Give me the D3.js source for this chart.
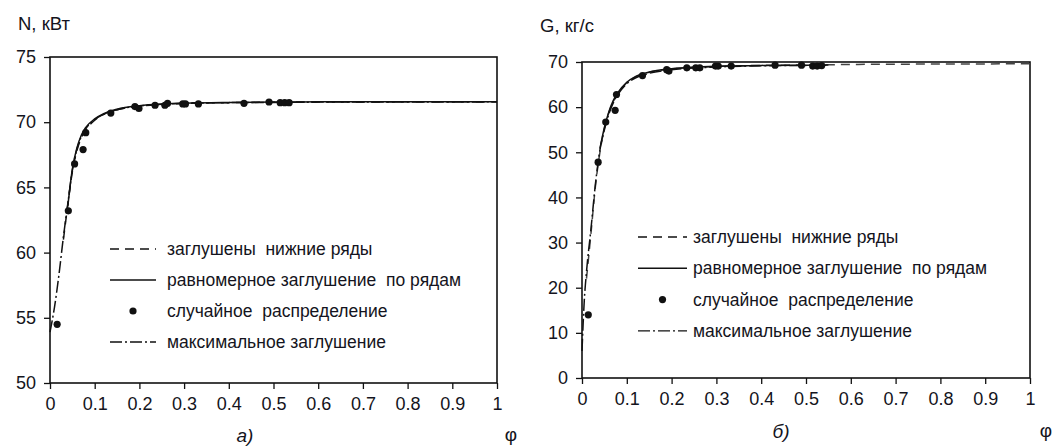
<!DOCTYPE html>
<html>
<head>
<meta charset="utf-8">
<script src="https://cdn.jsdelivr.net/npm/d3@7"></script>
<style>
  body { margin: 0; background: #fff; }
  svg { display: block; }
  text { font-family: "Liberation Sans", Arial, sans-serif; fill: #141420; }
  .tick line { stroke: #111; stroke-width: 1.3px; }
  .tick text { font-size: 18px; fill: #141420; }
  .frame { fill: none; stroke: #111; stroke-width: 1.6px; }
  .curve { fill: none; stroke-width: 1.5px; }
  .legend_text { font-size: 17.5px; }
</style>
</head>
<body>
<svg id="chart" width="1054" height="448"></svg>
<script>
// small stand-in for d3-selection-multi
d3.selection.prototype.attrs = function(o) {
  Object.entries(o).forEach(([k, v]) => this.attr(k, v))
  return this
}

// x ticks shared by both panels
let xTicks = [0, 0.1, 0.2, 0.3, 0.4, 0.5, 0.6, 0.7, 0.8, 0.9, 1]

let legendLabels = ["заглушены  нижние ряды", "равномерное заглушение  по рядам",
                    "случайное  распределение", "максимальное заглушение"]

// panel a) N, кВт
let leftTicks = [50, 55, 60, 65, 70, 75]
let leftPhi = [0, 0.01, 0.02, 0.03, 0.04, 0.05, 0.06, 0.07, 0.08, 0.1, 0.12, 0.15, 0.2, 0.25, 0.3, 0.4, 0.5, 0.6, 0.8, 1]
let leftMax = [53.9, 55.8, 58.3, 61.2, 63.8, 66.3, 67.9, 68.9, 69.5, 70.2, 70.6, 70.95, 71.25, 71.38, 71.45, 71.5, 71.52, 71.54, 71.55, 71.56]
let leftUniform = [null, null, null, null, 63.6, 66.4, 68.0, 69.0, 69.6, 70.25, 70.65, 71.0, 71.27, 71.4, 71.46, 71.52, 71.55, 71.56, 71.57, 71.57]
let leftLower = [null, null, null, 61.0, 63.7, 66.2, 67.8, 68.8, 69.4, 70.15, 70.6, 70.95, 71.22, 71.36, 71.43, 71.5, 71.53, 71.55, 71.56, 71.57]
let leftPointsPhi = [0.016, 0.041, 0.055, 0.074, 0.08, 0.136, 0.19, 0.199, 0.235, 0.257, 0.263, 0.297, 0.303, 0.332, 0.434, 0.49, 0.515, 0.525, 0.535]
let leftPointsN = [54.5, 63.2, 66.8, 67.9, 69.2, 70.7, 71.2, 71.05, 71.3, 71.3, 71.45, 71.4, 71.4, 71.4, 71.45, 71.55, 71.5, 71.5, 71.5]

// panel б) G, кг/с
let rightTicks = [0, 10, 20, 30, 40, 50, 60, 70]
let rightPhi = [0, 0.005, 0.01, 0.02, 0.03, 0.04, 0.05, 0.06, 0.07, 0.08, 0.1, 0.12, 0.15, 0.2, 0.25, 0.3, 0.4, 0.5, 0.55, 0.6, 0.8, 1]
let rightMax = [6, 17, 23.5, 33, 43, 50.5, 55, 58.5, 61, 62.8, 65.2, 66.5, 67.5, 68.3, 68.65, 68.9, 69.15, 69.25, 69.3, null, null, null]
let rightUniform = [null, null, null, null, null, 50.8, 55.5, 59, 61.5, 63.2, 65.5, 66.8, 67.8, 68.5, 68.85, 69.05, 69.25, 69.3, 69.32, null, null, null]
let rightLower = [null, null, 22, 32, 42.5, 50, 55.3, 58.8, 61.3, 63.0, 65.4, 66.7, 67.7, 68.45, 68.8, 69.0, 69.25, 69.35, 69.4, 69.45, 69.55, 69.6]
let rightPointsPhi = [0.014, 0.036, 0.053, 0.074, 0.077, 0.135, 0.189, 0.194, 0.234, 0.254, 0.263, 0.298, 0.304, 0.333, 0.431, 0.49, 0.515, 0.525, 0.535]
let rightPointsG = [14.0, 47.8, 56.7, 59.3, 62.8, 67.0, 68.3, 68.0, 68.7, 68.7, 68.7, 69.1, 69.1, 69.1, 69.3, 69.3, 69.1, 69.1, 69.2]

let dashes = {lower: "9,6", uniform: null, max: "12,3,2,3"}

let svg = d3.select("#chart")

function make_scales(p, yDomain) {
  return {
    x: d3.scaleLinear().domain([0, 1]).range([p.left, p.right]),
    y: d3.scaleLinear().domain(yDomain).range([p.bottom, p.top])
  }
}

function draw_panel(p, yDomain, yTicks, phi, curves, ptsPhi, ptsY) {
  let scales = make_scales(p, yDomain)
  let g = svg.append("g")

  let x_axis = d3.axisBottom(scales.x).tickValues(xTicks).tickFormat(d => d)
        .tickSize(6).tickPadding(8),
      y_axis = d3.axisLeft(scales.y).tickValues(yTicks).tickFormat(d => d)
        .tickSize(6).tickPadding(8)

  g.append("g").attr("transform", `translate(0, ${p.bottom})`).call(x_axis)
  g.append("g").attr("transform", `translate(${p.left}, 0)`).call(y_axis)
  g.selectAll(".domain").remove()

  g.append("rect").attrs({
    class: "frame",
    x: p.left, y: p.top,
    width: p.right - p.left, height: p.bottom - p.top
  })

  curves.forEach(c => {
    let rows = phi.map((f, i) => ({f: f, v: c.values[i]}))
    let path_generator = d3.line()
      .defined(d => d.v !== null)
      .x(d => scales.x(d.f))
      .y(d => scales.y(d.v))
      .curve(d3.curveMonotoneX)
    g.append("path")
      .datum(rows)
      .attr("class", "curve")
      .attr("stroke", c.color || "#111")
      .attr("stroke-dasharray", c.dash)
      .attr("d", path_generator)
  })

  g.selectAll("circle.pt")
    .data(ptsPhi.map((f, i) => ({f: f, v: ptsY[i]})))
    .enter().append("circle")
    .attrs({
      class: "pt",
      cx: d => scales.x(d.f),
      cy: d => scales.y(d.v),
      r: 3.6,
      fill: "#111"
    })
  return g
}

function draw_legend(l) {
  let g = svg.append("g")
  let kinds = ["lower", "uniform", "dot", "max"]
  kinds.forEach((k, i) => {
    let y = l.y0 + i * l.step
    if (k === "dot") {
      g.append("circle").attrs({cx: (l.x1 + l.x2) / 2, cy: y, r: 3.6, fill: "#111"})
    } else {
      g.append("line").attrs({
        x1: l.x1, x2: l.x2, y1: y, y2: y,
        stroke: "#111", "stroke-width": 1.4,
        "stroke-dasharray": dashes[k]
      })
    }
    g.append("text")
      .attr("class", "legend_text")
      .attr("x", l.tx)
      .attr("y", y)
      .attr("dy", "0.35em")
      .style("white-space", "pre")
      .text(legendLabels[i])
  })
}

function titles(items) {
  items.forEach(t => {
    svg.append("text")
      .attrs({x: t.x, y: t.y, "text-anchor": t.anchor || "start"})
      .style("font-size", t.size + "px")
      .style("font-style", t.italic ? "italic" : "normal")
      .text(t.text)
  })
}

let leftBox = {left: 50, right: 497, top: 57, bottom: 383},
    rightBox = {left: 582, right: 1030, top: 62, bottom: 378}

draw_panel(leftBox, [50, 75], leftTicks, leftPhi, [
  {values: leftLower, dash: dashes.lower},
  {values: leftUniform, dash: dashes.uniform},
  {values: leftMax, dash: dashes.max}
], leftPointsPhi, leftPointsN)

draw_panel(rightBox, [0, 70], rightTicks, rightPhi, [
  {values: rightLower, dash: dashes.lower, color: "#444"},
  {values: rightUniform, dash: dashes.uniform},
  {values: rightMax, dash: dashes.max}
], rightPointsPhi, rightPointsG)

draw_legend({x1: 110, x2: 156, tx: 167, y0: 249, step: 31})
draw_legend({x1: 638, x2: 687, tx: 693, y0: 237, step: 31.3})

titles([
  {text: "N, кВт", x: 18, y: 30, size: 18.5},
  {text: "G, кг/с", x: 540, y: 32, size: 18.5},
  {text: "а)", x: 245, y: 442, size: 19, italic: true, anchor: "middle"},
  {text: "φ", x: 511, y: 441, size: 19, anchor: "middle"},
  {text: "б)", x: 781, y: 438, size: 19, italic: true, anchor: "middle"},
  {text: "φ", x: 1046, y: 437, size: 19, anchor: "middle"}
])
</script>
</body>
</html>
